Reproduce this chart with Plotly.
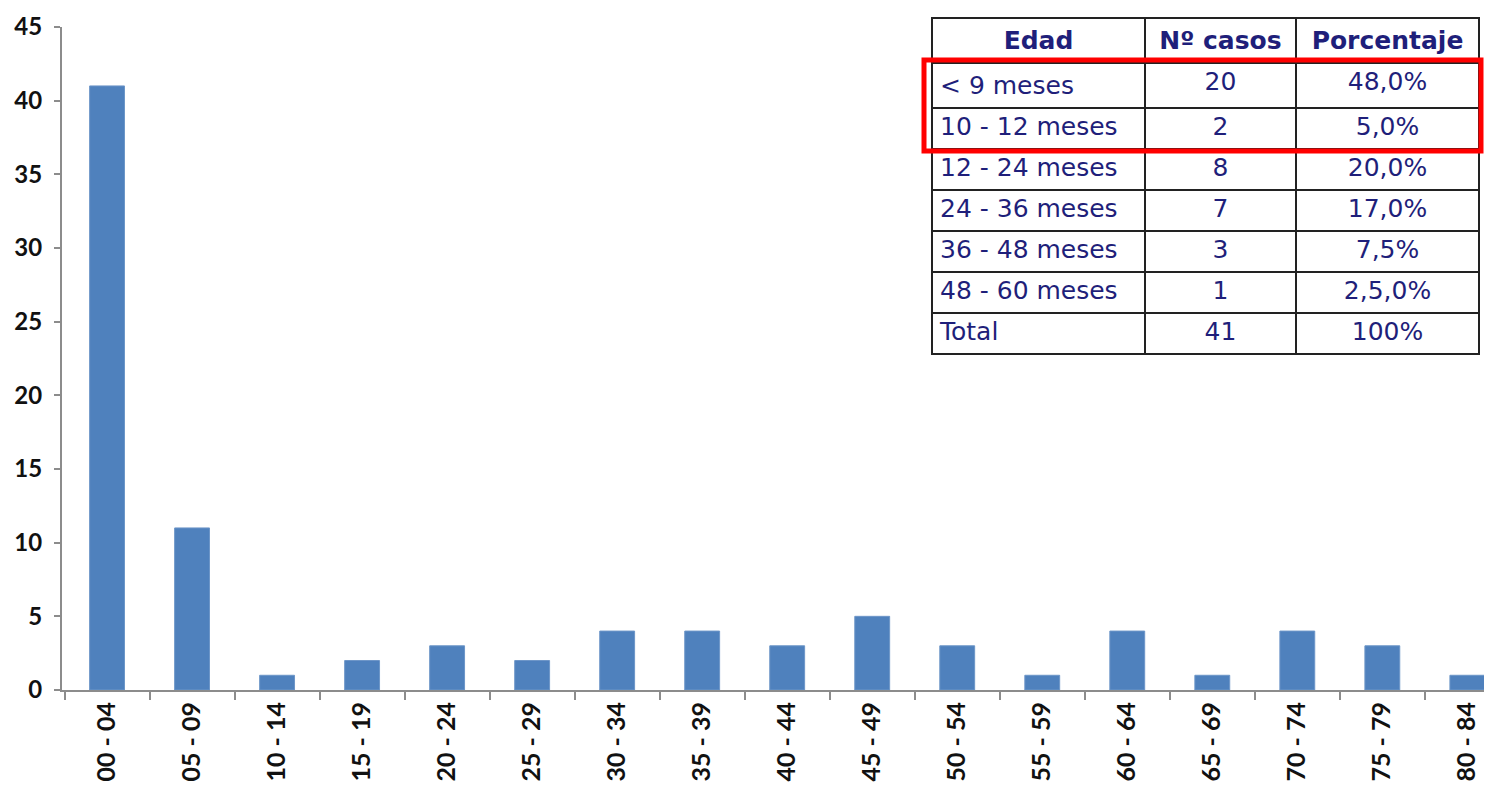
import plotly.graph_objects as go

# ---- data ----
age_groups = ["00 - 04", "05 - 09", "10 - 14", "15 - 19", "20 - 24", "25 - 29", "30 - 34",
              "35 - 39", "40 - 44", "45 - 49", "50 - 54", "55 - 59", "60 - 64", "65 - 69",
              "70 - 74", "75 - 79", "80 - 84"]
cases = [41, 11, 1, 2, 3, 2, 4, 4, 3, 5, 3, 1, 4, 1, 4, 3, 1]

table_header = ["Edad", "Nº casos", "Porcentaje"]
edad = ["< 9 meses", "10 - 12 meses", "12 - 24 meses", "24 - 36 meses",
        "36 - 48 meses", "48 - 60 meses", "Total"]
n_casos = ["20", "2", "8", "7", "3", "1", "41"]
porcentaje = ["48,0%", "5,0%", "20,0%", "17,0%", "7,5%", "2,5,0%", "100%"]

# page has an 8px body margin: figure coords = page coords - 8
OFF = 8
W, H = 1492 - OFF, 791 - OFF
ML = 62 - OFF
MT = 18 - OFF
MR = 0
MB = H - (690 - OFF)
plot_w = W - ML - MR
plot_h = H - MT - MB

def px_x(p):
    return (p - OFF - ML) / plot_w

def px_y(p):
    return (H - MB - (p - OFF)) / plot_h

bar_color = "#4F81BD"
navy = "#1F1F7A"

fig = go.Figure()
fig.add_trace(go.Bar(
    x=age_groups, y=cases,
    marker=dict(color=bar_color, line=dict(color="#6d96c8", width=1)),
    width=0.41,
    showlegend=False,
    hoverinfo="x+y",
))

fig.add_trace(go.Table(
    domain=dict(x=[px_x(932), px_x(1479)], y=[px_y(360), 1.0]),
    columnwidth=[213, 151, 183],
    header=dict(
        values=["<b>%s</b>" % h for h in table_header],
        align="center",
        height=42,
        font=dict(family="DejaVu Sans", size=25, color=navy),
        fill=dict(color="white"),
        line=dict(color="#222222", width=2),
    ),
    cells=dict(
        values=[edad, n_casos, porcentaje],
        align=["left", "center", "center"],
        height=41,
        font=dict(family="DejaVu Sans", size=25, color=navy),
        fill=dict(color="white"),
        line=dict(color="#222222", width=2),
    ),
))

fig.add_shape(type="rect", xref="paper", yref="paper",
              x0=px_x(924), x1=px_x(1481), y0=px_y(151), y1=px_y(60),
              line=dict(color="#FF0000", width=5), fillcolor="rgba(0,0,0,0)",
              layer="above")

fig.update_layout(
    width=W, height=H,
    margin=dict(l=ML, r=MR, t=MT, b=MB, pad=0, autoexpand=False),
    paper_bgcolor="white", plot_bgcolor="white",
    font=dict(family="Lato", size=22, color="#111111"),
    bargap=0.59,
    xaxis=dict(
        type="category",
        range=[-0.53, 16.29],
        automargin=False,
        showline=True, linecolor="#8c8c8c", linewidth=2,
        ticks="outside", tickson="boundaries", ticklen=8, tickcolor="#8c8c8c", tickwidth=2,
        tickangle=-90,
        tickfont=dict(family="Lato", size=25, color="#111111", weight="bold"),
        showgrid=False, zeroline=False,
    ),
    yaxis=dict(
        domain=[0, (690 - 27) / plot_h],
        range=[0, 45], dtick=5, tick0=0,
        automargin=False,
        showline=True, linecolor="#8c8c8c", linewidth=2,
        ticks="outside", ticklen=6, tickcolor="#8c8c8c", tickwidth=2,
        ticklabelstandoff=7,
        tickfont=dict(family="Lato", size=24, color="#111111", weight="bold"),
        showgrid=False, zeroline=False,
    ),
)

fig.write_html("out.html")
